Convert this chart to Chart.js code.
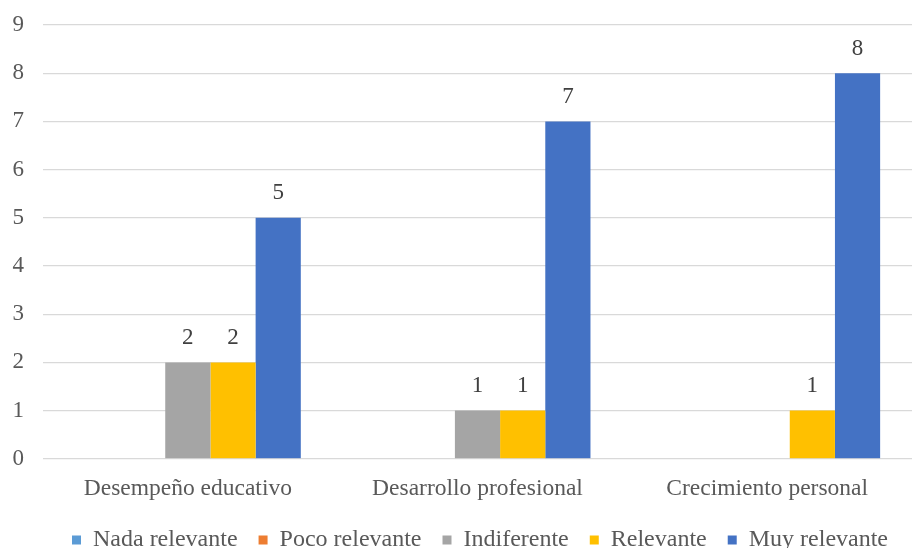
<!DOCTYPE html>
<html>
<head>
<meta charset="utf-8">
<script src="https://cdn.jsdelivr.net/npm/chart.js@4"></script>
<style>
  html, body { margin: 0; padding: 0; background: #fff; }
  #wrap { width: 914px; height: 548px; }
</style>
</head>
<body>
<div id="wrap"><canvas id="barChart"></canvas></div>
<script>
const categories = ['Desempeño educativo', 'Desarrollo profesional', 'Crecimiento personal'];
const nadaRelevante = [null, null, null];
const pocoRelevante = [null, null, null];
const indiferente = [2, 1, null];
const relevante = [2, 1, 1];
const muyRelevante = [5, 7, 8];
const yTicks = [0, 1, 2, 3, 4, 5, 6, 7, 8, 9];

const FONT = "'Liberation Serif', 'Times New Roman', serif";
const TEXT = '#595959';

// Draw the value above each bar (no datalabels plugin available)
const barValues = {
    id: 'barValues',
    afterDatasetsDraw(chart) {
        const ctx = chart.ctx;
        ctx.save();
        ctx.font = '23px ' + FONT;
        ctx.fillStyle = '#404040';
        ctx.textAlign = 'center';
        ctx.textBaseline = 'bottom';
        chart.data.datasets.forEach((ds, i) => {
            chart.getDatasetMeta(i).data.forEach((bar, j) => {
                const v = ds.data[j];
                if (v === null || v === undefined) return;
                ctx.fillText(String(v), bar.x, bar.y - 13);
            });
        });
        ctx.restore();
    }
};

// Nudge the legend: it sits a bit right of centre and closer to the axis labels
const legendNudge = {
    id: 'legendNudge',
    afterLayout(chart) {
        const lg = chart.legend;
        if (!lg) return;
        lg.left += 24; lg.right += 24;
        lg.top -= 12; lg.bottom -= 12;
    }
};

new Chart(document.getElementById('barChart').getContext('2d'), {
    type: 'bar',
    data: {
        labels: categories,
        datasets: [
            { label: 'Nada relevante', data: nadaRelevante, backgroundColor: '#5B9BD5' },
            { label: 'Poco relevante', data: pocoRelevante, backgroundColor: '#ED7D31' },
            { label: 'Indiferente', data: indiferente, backgroundColor: '#A5A5A5' },
            { label: 'Relevante', data: relevante, backgroundColor: '#FFC000' },
            { label: 'Muy relevante', data: muyRelevante, backgroundColor: '#4472C4' }
        ]
    },
    options: {
        responsive: true,
        maintainAspectRatio: false,
        animation: false,
        layout: { padding: { left: 0, right: 2, top: 25, bottom: -26 } },
        datasets: { bar: { categoryPercentage: 0.78, barPercentage: 1.0 } },
        scales: {
            x: {
                grid: { display: false, drawTicks: false },
                border: { display: false },
                ticks: { color: TEXT, font: { family: FONT, size: 23.5 }, padding: 16 }
            },
            y: {
                min: yTicks[0],
                max: yTicks[yTicks.length - 1],
                afterBuildTicks(axis) { axis.ticks = yTicks.map(v => ({ value: v })); },
                afterFit(axis) { axis.width = 43; axis.paddingTop = 0; axis.paddingBottom = 0; },
                grid: { color: '#D9D9D9', lineWidth: 1.3, drawTicks: false },
                border: { display: false },
                ticks: { color: TEXT, font: { family: FONT, size: 23 }, padding: 19 }
            }
        },
        plugins: {
            tooltip: { enabled: false },
            legend: {
                display: true,
                position: 'bottom',
                labels: {
                    color: TEXT,
                    font: { family: FONT, size: 24 },
                    boxWidth: 9,
                    boxHeight: 9,
                    padding: 21
                }
            }
        }
    },
    plugins: [barValues, legendNudge]
});
</script>
</body>
</html>
